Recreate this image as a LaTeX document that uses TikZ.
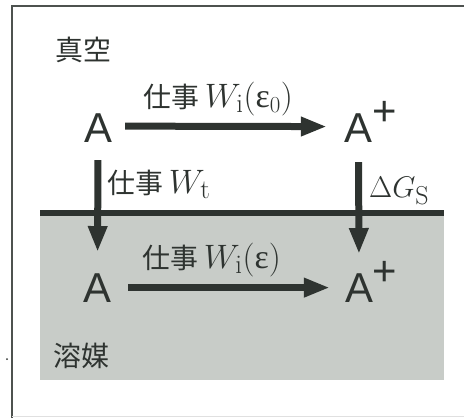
\RequirePackage{fix-cm}
\documentclass[tikz,border=0pt]{standalone}
\usepackage{fontspec}
\setsansfont{Liberation Sans}
\newfontfamily\jpfont{Noto Sans CJK JP}
\newfontfamily\grk{Liberation Serif}
\usetikzlibrary{arrows.meta}
\definecolor{ink}{HTML}{2E3330}
\definecolor{solv}{HTML}{C8CCC8}
\newcommand\plusup{\rlap{\raisebox{17bp}[0pt][0pt]{+}}}
\newcommand\mth{\fontsize{34}{38}\selectfont}
\newcommand\eps{\mbox{\grk ε}}
\newcommand\sbx[2][27]{\mbox{\rmfamily\fontsize{#1}{30}\selectfont #2}}
\begin{document}
\begin{tikzpicture}[x=1bp,y=-1bp,
  atom/.style={font=\fontsize{42}{42}\selectfont\sffamily, inner sep=0pt, text=ink, anchor=base},
  lbl/.style={font=\fontsize{28}{32}\jpfont, inner sep=0pt, anchor=base west, text=ink},
  bigarrow/.style={draw=ink, line width=7bp, -{Triangle[length=26bp,width=18bp]}},
]
\useasboundingbox (0,0) rectangle (464,418);
% frame
\draw[ink!85, line width=1.2bp] (12,418) -- (12,6) -- (470,6);
\draw[black!12, line width=1bp] (12,416) -- (470,416);
\fill[ink] (7,359) circle (1bp);
% solvent region
\fill[solv] (40,213) rectangle (444,380);
\draw[ink, line width=6.5bp] (40,213) -- (444,213);
% region labels
\node[lbl] (vac) at (55,60) {真空};
\node[lbl] (sol) at (53,366) {溶媒};
% species
\node[atom] (A1) at (98,142) {A};
\node[atom] (A2) at (358.5,142.5) {A\plusup};
\node[atom] (A3) at (97.5,302) {A};
\node[atom] (A4) at (359,302) {A\plusup};
% arrows
\draw[bigarrow, shorten <=13bp, shorten >=17.5bp] ([yshift=1.5bp]A1.east) -- ([yshift=1.5bp]A2.west);
\draw[bigarrow, shorten <=18bp, shorten >=21bp] (A1.south) -- (A3.north);
\draw[bigarrow, shorten <=19.5bp, shorten >=19bp] (A2.south) -- (A4.north);
\draw[bigarrow, shorten <=16.5bp, shorten >=15bp] (A3.east) -- (A4.west);
% arrow labels
\node[lbl] (w1) at (143,107) {仕事\hspace{6bp}{\mth$W_{\sbx{i}}(\eps_{\sbx[23]{0}})$}};
\node[lbl] (w2) at (107,193) {仕事\hspace{6bp}{\mth$W_{\sbx{t}}$}};
\node[lbl] (dg) at (369,197) {{\fontsize{30}{34}\selectfont$\Delta G_{\sbx[26]{S}}$}};
\node[lbl] (w3) at (142,268) {仕事\hspace{6bp}{\mth$W_{\sbx{i}}(\eps)$}};
\end{tikzpicture}
\end{document}
